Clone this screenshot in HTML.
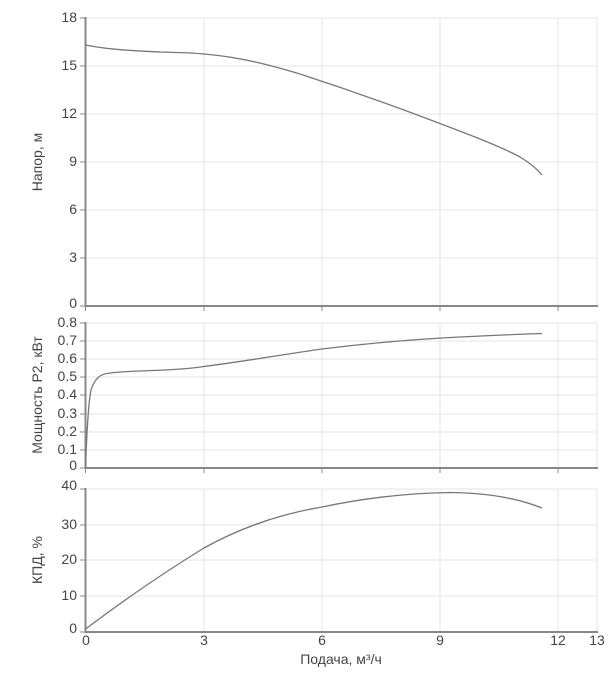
<!DOCTYPE html>
<html><head><meta charset="utf-8"><style>
body{margin:0;background:#fff}
svg{display:block;font-family:"Liberation Sans",sans-serif}
.t{font-size:14px;fill:#444}
.g{stroke:#e4e4ea;stroke-width:1}
.a{stroke:#888;stroke-width:2}
.c{fill:none;stroke:#777;stroke-width:1.3}
</style></head><body>
<svg width="611" height="677" viewBox="0 0 611 677">
<g class="g">
<line x1="204" y1="18" x2="204" y2="306"/><line x1="322" y1="18" x2="322" y2="306"/><line x1="440" y1="18" x2="440" y2="306"/><line x1="558" y1="18" x2="558" y2="306"/>
<line x1="204" y1="323" x2="204" y2="468"/><line x1="322" y1="323" x2="322" y2="468"/><line x1="440" y1="323" x2="440" y2="468"/><line x1="558" y1="323" x2="558" y2="468"/>
<line x1="204" y1="489" x2="204" y2="632"/><line x1="322" y1="489" x2="322" y2="632"/><line x1="440" y1="489" x2="440" y2="632"/><line x1="558" y1="489" x2="558" y2="632"/>
<line x1="85" y1="18" x2="597" y2="18"/><line x1="85" y1="66" x2="597" y2="66"/><line x1="85" y1="114" x2="597" y2="114"/><line x1="85" y1="162" x2="597" y2="162"/><line x1="85" y1="210" x2="597" y2="210"/><line x1="85" y1="258" x2="597" y2="258"/>
<line x1="85" y1="323" x2="597" y2="323"/><line x1="85" y1="341" x2="597" y2="341"/><line x1="85" y1="359" x2="597" y2="359"/><line x1="85" y1="377" x2="597" y2="377"/><line x1="85" y1="395" x2="597" y2="395"/><line x1="85" y1="414" x2="597" y2="414"/><line x1="85" y1="432" x2="597" y2="432"/><line x1="85" y1="450" x2="597" y2="450"/>
<line x1="85" y1="489" x2="597" y2="489"/><line x1="85" y1="525" x2="597" y2="525"/><line x1="85" y1="560" x2="597" y2="560"/><line x1="85" y1="596" x2="597" y2="596"/>
<line x1="597" y1="18" x2="597" y2="306"/><line x1="597" y1="323" x2="597" y2="468"/><line x1="597" y1="489" x2="597" y2="632"/>
</g>
<g class="a">
<line x1="85.5" y1="17" x2="85.5" y2="307"/><line x1="85" y1="306" x2="598" y2="306"/>
<line x1="85.5" y1="322" x2="85.5" y2="469"/><line x1="85" y1="468" x2="598" y2="468"/>
<line x1="85.5" y1="488" x2="85.5" y2="633"/><line x1="85" y1="632" x2="598" y2="632"/>
</g>
<g stroke="#888" stroke-width="1">
<line x1="80" y1="18" x2="85" y2="18"/><line x1="80" y1="66" x2="85" y2="66"/><line x1="80" y1="114" x2="85" y2="114"/><line x1="80" y1="162" x2="85" y2="162"/><line x1="80" y1="210" x2="85" y2="210"/><line x1="80" y1="258" x2="85" y2="258"/><line x1="80" y1="306" x2="85" y2="306"/>
<line x1="80" y1="323" x2="85" y2="323"/><line x1="80" y1="341" x2="85" y2="341"/><line x1="80" y1="359" x2="85" y2="359"/><line x1="80" y1="377" x2="85" y2="377"/><line x1="80" y1="395" x2="85" y2="395"/><line x1="80" y1="414" x2="85" y2="414"/><line x1="80" y1="432" x2="85" y2="432"/><line x1="80" y1="450" x2="85" y2="450"/><line x1="80" y1="468" x2="85" y2="468"/>
<line x1="80" y1="489" x2="85" y2="489"/><line x1="80" y1="525" x2="85" y2="525"/><line x1="80" y1="560" x2="85" y2="560"/><line x1="80" y1="596" x2="85" y2="596"/><line x1="80" y1="632" x2="85" y2="632"/>
<line x1="85.5" y1="306" x2="85.5" y2="311"/><line x1="204" y1="306" x2="204" y2="311"/><line x1="322" y1="306" x2="322" y2="311"/><line x1="440" y1="306" x2="440" y2="311"/><line x1="558" y1="306" x2="558" y2="311"/>
<line x1="85.5" y1="468" x2="85.5" y2="473"/><line x1="204" y1="468" x2="204" y2="473"/><line x1="322" y1="468" x2="322" y2="473"/><line x1="440" y1="468" x2="440" y2="473"/><line x1="558" y1="468" x2="558" y2="473"/>
</g>
<g class="t" text-anchor="end">
<text x="77" y="22">18</text><text x="77" y="70">15</text><text x="77" y="118">12</text><text x="77" y="166">9</text><text x="77" y="214">6</text><text x="77" y="262">3</text><text x="77" y="308">0</text>
<text x="77" y="327">0.8</text><text x="77" y="345">0.7</text><text x="77" y="363">0.6</text><text x="77" y="381">0.5</text><text x="77" y="399">0.4</text><text x="77" y="418">0.3</text><text x="77" y="436">0.2</text><text x="77" y="454">0.1</text><text x="77" y="470">0</text>
<text x="77" y="490">40</text><text x="77" y="529">30</text><text x="77" y="564">20</text><text x="77" y="600">10</text><text x="77" y="633">0</text>
</g>
<g class="t" text-anchor="middle">
<text x="86" y="645">0</text><text x="204" y="645">3</text><text x="322" y="645">6</text><text x="440" y="645">9</text><text x="558" y="645">12</text><text x="597" y="645">13</text>
<text x="341" y="664">Подача, м³/ч</text>
</g>
<g class="t" text-anchor="middle">
<text transform="translate(42,162) rotate(-90)">Напор, м</text>
<text transform="translate(42,395) rotate(-90)">Мощность P2, кВт</text>
<text transform="translate(42,560) rotate(-90)">КПД, %</text>
</g>
<path class="c" d="M85.5,45 C110,50 140,51 160,52 C180,52.5 195,53 204,54 C240,57 270,65 300,74 C340,87 380,101 420,116 C460,131 500,146 520,157 C530,163 537,169 542,175"/>
<path class="c" d="M85.5,468 C86.5,440 88,405 91,390 C95,378 100,374 110,373 C125,371 145,371 165,370 C185,369 195,368 204,366.5 C240,362 280,355 322,349 C370,343 420,339 460,337 C500,335 525,334 542,333.5"/>
<path class="c" d="M85.5,629 C120,603 160,575 204,548 C240,528 280,514 322,507 C370,497 410,493 450,492.5 C490,493 520,499 542,508"/>
</svg>
</body></html>
